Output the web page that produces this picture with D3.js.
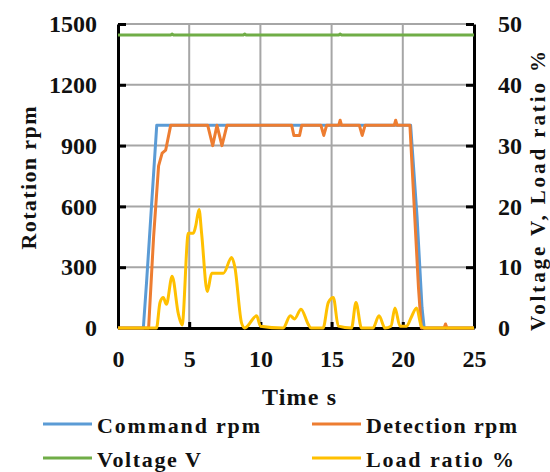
<!DOCTYPE html>
<html>
<head>
<meta charset="utf-8">
<script src="https://cdn.jsdelivr.net/npm/d3@7"></script>
<style>
  html, body { margin: 0; padding: 0; background: #fff; }
  text { font-family: "Liberation Serif", "DejaVu Serif", serif; font-weight: bold; fill: #111; }
</style>
</head>
<body>
<div id="chart"></div>
<script>
// rotation / voltage / load ratio over time, dual y axes

const xTicks = [0, 5, 10, 15, 20, 25];
const rpmTicks = [0, 300, 600, 900, 1200, 1500];
const rightTicks = [0, 10, 20, 30, 40, 50];

const commandTime = [0, 1.78, 2.0, 2.72, 20.55, 21.0, 21.35, 21.5, 25];
const commandRpm  = [0, 0, 220, 1000, 1000, 550, 100, 0, 0];

const detectionTime = [0, 2.15, 2.5, 2.85, 3.1, 3.35, 3.7, 6.3, 6.65, 6.95, 7.3, 7.65,
    12.2, 12.35, 12.75, 12.9, 14.25, 14.45, 14.65, 15.5, 15.6, 15.7, 16.95, 17.15, 17.35,
    19.4, 19.5, 19.6, 20.5, 20.8, 21.1, 21.3, 22.9, 23.0, 23.1, 25];
const detectionRpm = [0, 0, 450, 800, 863, 878, 1000, 1000, 900, 1000, 900, 1000,
    1000, 950, 950, 1000, 1000, 950, 1000, 1000, 1025, 1000, 1000, 950, 1000,
    1000, 1025, 1000, 1000, 600, 200, 0, 0, 20, 0, 0];

const voltageTime = [0, 3.7, 3.8, 3.9, 8.8, 8.9, 9.0, 15.5, 15.6, 15.7, 25];
const voltageV    = [48.2, 48.2, 48.35, 48.2, 48.2, 48.35, 48.2, 48.2, 48.35, 48.2, 48.2];

const loadTime = [0, 2.7, 2.95, 3.18, 3.4, 3.8, 4.24, 4.5, 4.94, 5.29, 5.45, 5.69, 5.87,
    6.27, 6.58, 7.4, 7.98, 8.2, 8.68, 8.9, 9.74, 10.0, 11.6, 12.1, 12.4, 12.85, 13.36,
    13.55, 14.4, 14.77, 15.12, 15.47, 16.4, 16.71, 17.1, 17.9, 18.33, 18.75, 19.17,
    19.45, 19.8, 20.27, 20.58, 20.97, 21.3, 21.5, 25];
const loadRatio = [0, 0, 4.2, 5.0, 3.9, 8.5, 2.3, 0.5, 15.6, 15.6, 16.7, 19.5, 15.6,
    6.0, 9.0, 9.0, 11.6, 10.1, 0.8, 0, 2.0, 0.3, 0, 2.0, 1.5, 3.1, 0.6,
    0, 0, 4.2, 5.0, 0.3, 0, 4.2, 0, 0, 2.0, 0, 0.3,
    3.3, 0.3, 0.3, 1.7, 3.3, 0.3, 0, 0];

const legendItems = [
    { name: "Command rpm", color: "#5B9BD5", len: 163 },
    { name: "Detection rpm", color: "#ED7D31", len: 151 },
    { name: "Voltage V", color: "#70AD47", len: 104 },
    { name: "Load ratio %", color: "#FFC000", len: 148 }
];

const width = 550, height = 472;
const plot = { left: 118, right: 474, top: 24, bottom: 328 };

const svg = d3.select("#chart").append("svg")
    .attr("width", width).attr("height", height);

const x = d3.scaleLinear().domain([0, 25]).range([plot.left, plot.right]);
const yL = d3.scaleLinear().domain([0, 1500]).range([plot.bottom, plot.top]);
const yR = d3.scaleLinear().domain([0, 50]).range([plot.bottom, plot.top]);

// grid
const grid = svg.append("g").attr("stroke", "#a6a6a6").attr("stroke-width", 2);
grid.selectAll("line.h").data(rpmTicks.slice(1)).join("line")
    .attr("x1", plot.left).attr("x2", plot.right)
    .attr("y1", d => yL(d)).attr("y2", d => yL(d));
grid.selectAll("line.v").data(xTicks.slice(1, -1)).join("line")
    .attr("y1", plot.top).attr("y2", plot.bottom)
    .attr("x1", d => x(d)).attr("x2", d => x(d));

// axes
const axisStyle = g => {
    g.select(".domain").attr("stroke", "#000").attr("stroke-width", 3);
    g.selectAll(".tick line").attr("stroke", "#000").attr("stroke-width", 3);
    g.selectAll(".tick text").attr("font-size", 24).attr("fill", "#111")
        .style("font-family", "'Liberation Serif', serif").style("font-weight", "bold");
};
const fmt = d3.format("d");

svg.append("g").attr("transform", `translate(${plot.left},0)`)
    .call(d3.axisLeft(yL).tickValues(rpmTicks).tickFormat(fmt)
        .tickSizeInner(-8).tickSizeOuter(0).tickPadding(21))
    .call(axisStyle);

svg.append("g").attr("transform", `translate(${plot.right},0)`)
    .call(d3.axisRight(yR).tickValues(rightTicks).tickFormat(fmt)
        .tickSizeInner(-8).tickSizeOuter(0).tickPadding(24))
    .call(axisStyle);

svg.append("g").attr("transform", `translate(0,${plot.bottom})`)
    .call(d3.axisBottom(x).tickValues(xTicks).tickFormat(fmt)
        .tickSizeInner(-6).tickSizeOuter(0).tickPadding(22))
    .call(axisStyle);

// series
const zip = (t, v) => t.map((d, i) => [d, v[i]]);
const lineL = d3.line().x(d => x(d[0])).y(d => yL(d[1]));
const lineR = d3.line().x(d => x(d[0])).y(d => yR(d[1]));
const lineSmooth = d3.line().x(d => x(d[0])).y(d => yR(d[1])).curve(d3.curveMonotoneX);

const series = svg.append("g").attr("fill", "none").attr("stroke-width", 3)
    .attr("stroke-linejoin", "round");
series.append("path").datum(zip(commandTime, commandRpm))
    .attr("stroke", "#5B9BD5").attr("d", lineL);
series.append("path").datum(zip(detectionTime, detectionRpm))
    .attr("stroke", "#ED7D31").attr("d", lineL);
series.append("path").datum(zip(voltageTime, voltageV))
    .attr("stroke", "#70AD47").attr("d", lineR);
series.append("path").datum(zip(loadTime, loadRatio))
    .attr("stroke", "#FFC000").attr("d", lineSmooth);

// axis titles
svg.append("text")
    .attr("transform", "translate(36,178) rotate(-90)")
    .attr("text-anchor", "middle").attr("font-size", 22)
    .attr("textLength", 143).attr("lengthAdjust", "spacing")
    .text("Rotation rpm");

svg.append("text")
    .attr("transform", "translate(545,191) rotate(-90)")
    .attr("text-anchor", "middle").attr("font-size", 21)
    .attr("textLength", 280).attr("lengthAdjust", "spacing")
    .text("Voltage V, Load ratio %");

svg.append("text")
    .attr("x", 262).attr("y", 405).attr("font-size", 24)
    .attr("textLength", 74).attr("lengthAdjust", "spacing")
    .text("Time s");

// legend, 2 x 2
const legend = svg.append("g").selectAll("g").data(legendItems).join("g")
    .attr("transform", (d, i) => `translate(${i % 2 ? 312 : 43},${i < 2 ? 424 : 458})`);
legend.append("line")
    .attr("x1", 0).attr("x2", 49).attr("y1", 0).attr("y2", 0)
    .attr("stroke", d => d.color).attr("stroke-width", 3);
legend.append("text")
    .attr("x", 54).attr("y", 9)
    .attr("font-size", 22)
    .attr("textLength", d => d.len).attr("lengthAdjust", "spacing")
    .text(d => d.name);
</script>
</body>
</html>
